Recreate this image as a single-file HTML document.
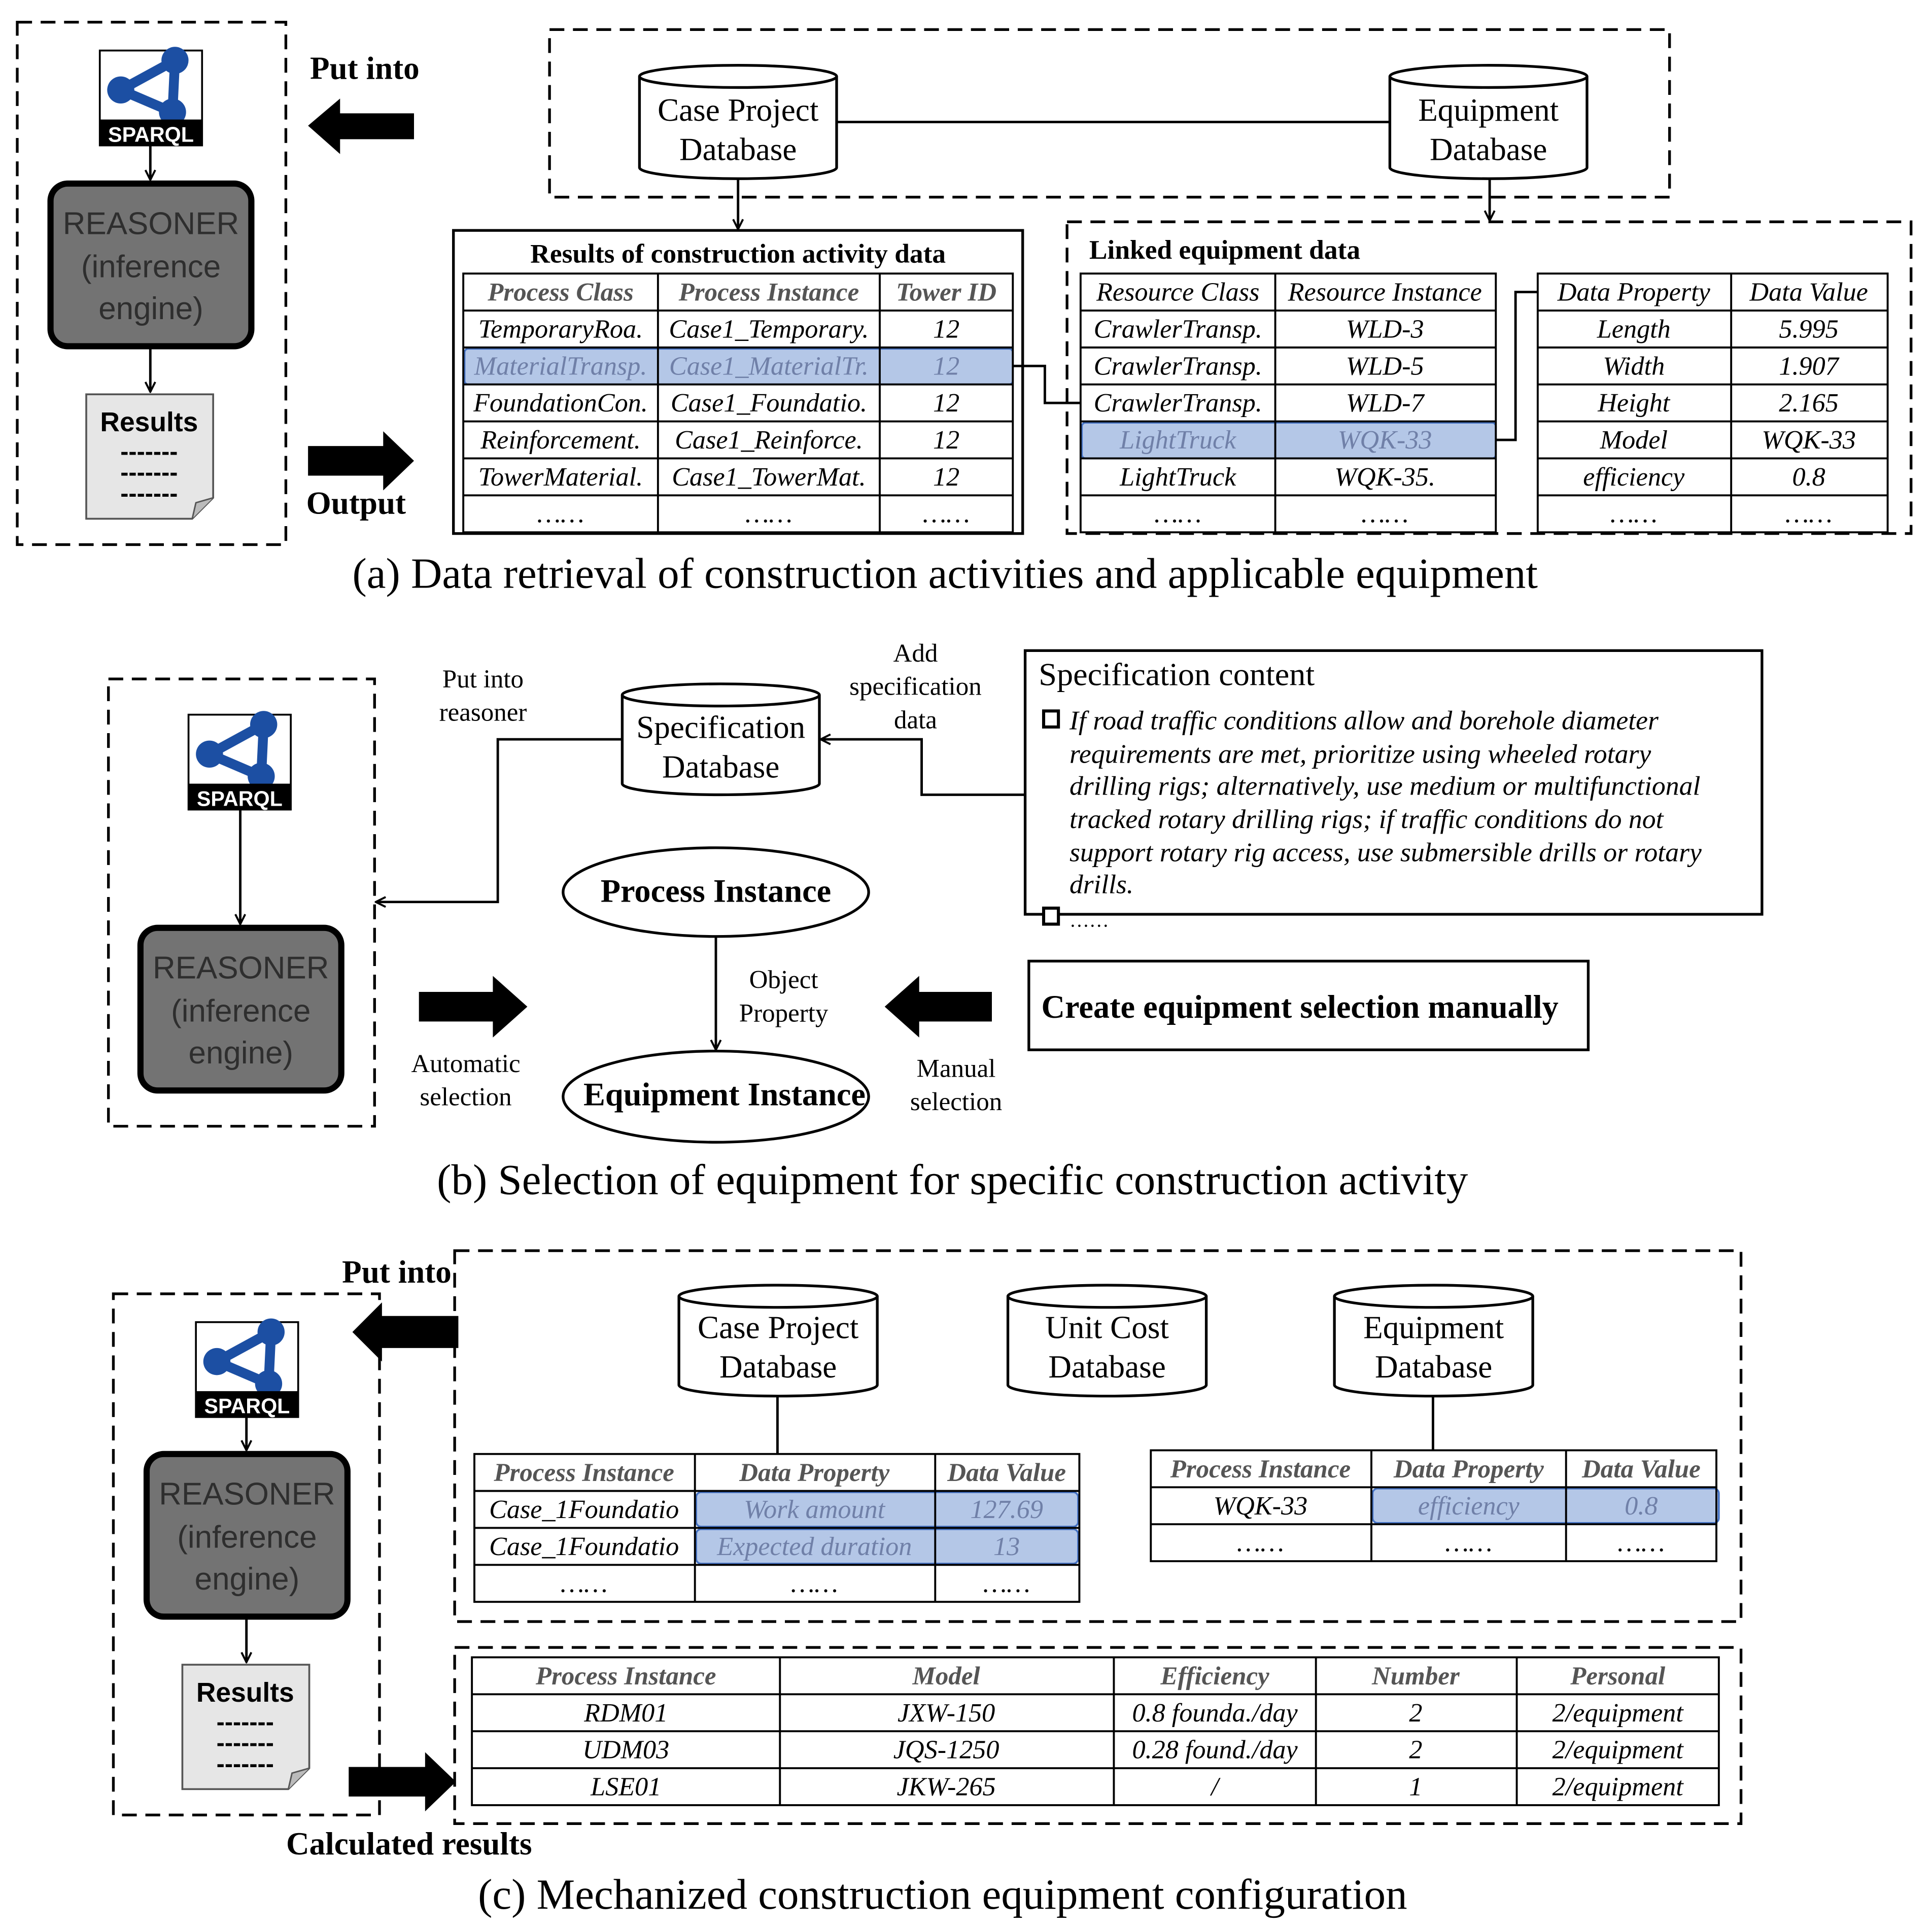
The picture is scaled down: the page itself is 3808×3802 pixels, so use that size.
<!DOCTYPE html>
<html><head><meta charset="utf-8"><style>
html,body{margin:0;padding:0;background:#fff}
svg{display:block}
text{font-family:"Liberation Serif",serif;fill:#000}
.sans{font-family:"Liberation Sans",sans-serif}
.it{font-style:italic;font-size:21.5px}
.hd{font-style:italic;font-weight:bold;font-size:21px;fill:#555}
.hl{fill:#7080a8}
.c{text-anchor:middle}
.b{font-weight:bold}
.dash{fill:none;stroke:#000;stroke-width:2.2;stroke-dasharray:12 7}
.ln{stroke:#000;stroke-width:2;fill:none}
.tb{stroke:#000;stroke-width:1.6;fill:none}
.cy{font-size:26px}
.sm{font-size:21px}
</style></head><body>
<svg width="3808" height="3802" viewBox="0 0 1568 1565.5" preserveAspectRatio="none" xmlns="http://www.w3.org/2000/svg">
<defs>
<marker id="ah" markerWidth="10" markerHeight="10" refX="9" refY="5" orient="auto" markerUnits="userSpaceOnUse"><path d="M1,1 L9,5 L1,9" fill="none" stroke="#000" stroke-width="1.6"/></marker>
<g id="sparql">
<rect x="1" y="6" width="83" height="77" fill="#fff" stroke="#000" stroke-width="1.5"/>
<path d="M18,38 L62,14 L60,56 Z" fill="none" stroke="#1c4fa3" stroke-width="8" stroke-linejoin="round"/>
<circle cx="18" cy="38" r="11" fill="#1c4fa3"/><circle cx="62" cy="14" r="11" fill="#1c4fa3"/><circle cx="60" cy="56" r="11" fill="#1c4fa3"/>
<rect x="1" y="62" width="83" height="21" fill="#000"/>
<text x="42.5" y="80" class="sans c" style="font-weight:bold;font-size:17px;fill:#fff">SPARQL</text>
</g>
<g id="reasoner">
<rect x="0" y="0" width="163" height="132" rx="14" fill="#737373" stroke="#000" stroke-width="5"/>
<text x="81.5" y="41" class="sans c" style="font-size:25.5px;fill:#2e2e2e">REASONER</text>
<text x="81.5" y="76" class="sans c" style="font-size:25.5px;fill:#2e2e2e">(inference</text>
<text x="81.5" y="110" class="sans c" style="font-size:25.5px;fill:#2e2e2e">engine)</text>
</g>
<g id="results">
<path d="M0,0 H103 V84 L86,101 H0 Z" fill="#e6e6e6" stroke="#555" stroke-width="1.5"/>
<path d="M86,101 L89,88 L103,84" fill="#bbb" stroke="#555" stroke-width="1.2"/>
<text x="51" y="30" class="sans c b" style="font-size:22px">Results</text>
<text x="51" y="53" class="sans c b" style="font-size:20px">-------</text>
<text x="51" y="70" class="sans c b" style="font-size:20px">-------</text>
<text x="51" y="87" class="sans c b" style="font-size:20px">-------</text>
</g>
</defs>

<!-- ===== (a) ===== -->
<rect x="14" y="18" width="218" height="424" class="dash"/>
<use href="#sparql" x="80" y="35"/>
<line x1="122" y1="118" x2="122" y2="146" class="ln" marker-end="url(#ah)"/>
<use href="#reasoner" x="41" y="149"/>
<line x1="122" y1="282" x2="122" y2="318" class="ln" marker-end="url(#ah)"/>
<use href="#results" x="70" y="320"/>
<text x="296" y="64" class="c b" style="font-size:26px">Put into</text>
<polygon points="250,102 276,80 276,92 336,92 336,113 276,113 276,125" fill="#000"/>
<polygon points="250,362 311,362 311,350 336,374 311,398 311,386 250,386" fill="#000"/>
<text x="289" y="417" class="c b" style="font-size:26px">Output</text>

<rect x="446" y="24" width="909" height="136" class="dash"/>
<path d="M519,62 V136 A80,9 0 0 0 679,136 V62" fill="#fff" stroke="#000" stroke-width="2.2"/>
<ellipse cx="599" cy="62" rx="80" ry="9" fill="#fff" stroke="#000" stroke-width="2.2"/>
<text x="599" y="98" class="c cy">Case Project</text>
<text x="599" y="130" class="c cy">Database</text>
<path d="M1128,62 V136 A80,9 0 0 0 1288,136 V62" fill="#fff" stroke="#000" stroke-width="2.2"/>
<ellipse cx="1208" cy="62" rx="80" ry="9" fill="#fff" stroke="#000" stroke-width="2.2"/>
<text x="1208" y="98" class="c cy">Equipment</text>
<text x="1208" y="130" class="c cy">Database</text>
<line x1="679" y1="99" x2="1128" y2="99" class="ln"/>
<line x1="599" y1="145" x2="599" y2="186" class="ln" marker-end="url(#ah)"/>
<line x1="1209" y1="145" x2="1209" y2="179" class="ln" marker-end="url(#ah)"/>

<!-- table 1 -->
<rect x="368" y="187" width="462" height="246" fill="none" stroke="#000" stroke-width="2.2"/>
<text x="599" y="213" class="c b" style="font-size:22px">Results of construction activity data</text>
<rect x="377" y="283" width="445" height="29" rx="3" fill="#b4c7e7" stroke="#4472c4" stroke-width="1.5"/>
<rect x="376" y="222" width="446" height="210" class="tb"/>
<path d="M376,252H822M376,282H822M376,312H822M376,342H822M376,372H822M376,402H822M534,222V432M714,222V432" class="tb"/>
<text x="455" y="244" class="hd c">Process Class</text><text x="624" y="244" class="hd c">Process Instance</text><text x="768" y="244" class="hd c">Tower ID</text>
<text x="455" y="274" class="it c">TemporaryRoa.</text><text x="624" y="274" class="it c">Case1_Temporary.</text><text x="768" y="274" class="it c">12</text>
<text x="455" y="304" class="it c hl">MaterialTransp.</text><text x="624" y="304" class="it c hl">Case1_MaterialTr.</text><text x="768" y="304" class="it c hl">12</text>
<text x="455" y="334" class="it c">FoundationCon.</text><text x="624" y="334" class="it c">Case1_Foundatio.</text><text x="768" y="334" class="it c">12</text>
<text x="455" y="364" class="it c">Reinforcement.</text><text x="624" y="364" class="it c">Case1_Reinforce.</text><text x="768" y="364" class="it c">12</text>
<text x="455" y="394" class="it c">TowerMaterial.</text><text x="624" y="394" class="it c">Case1_TowerMat.</text><text x="768" y="394" class="it c">12</text>
<text x="455" y="424" class="it c">……</text><text x="624" y="424" class="it c">……</text><text x="768" y="424" class="it c">……</text>
<path d="M822,297 H848 V327 H877" class="ln"/>

<!-- linked equipment -->
<rect x="866" y="180" width="685" height="253" class="dash"/>
<text x="884" y="210" class="b" style="font-size:22px">Linked equipment data</text>
<rect x="878" y="343" width="336" height="29" rx="3" fill="#b4c7e7" stroke="#4472c4" stroke-width="1.5"/>
<rect x="877" y="222" width="337" height="210" class="tb"/>
<path d="M877,252H1214M877,282H1214M877,312H1214M877,342H1214M877,372H1214M877,402H1214M1035,222V432" class="tb"/>
<text x="956" y="244" class="it c">Resource Class</text><text x="1124" y="244" class="it c">Resource Instance</text>
<text x="956" y="274" class="it c">CrawlerTransp.</text><text x="1124" y="274" class="it c">WLD-3</text>
<text x="956" y="304" class="it c">CrawlerTransp.</text><text x="1124" y="304" class="it c">WLD-5</text>
<text x="956" y="334" class="it c">CrawlerTransp.</text><text x="1124" y="334" class="it c">WLD-7</text>
<text x="956" y="364" class="it c hl">LightTruck</text><text x="1124" y="364" class="it c hl">WQK-33</text>
<text x="956" y="394" class="it c">LightTruck</text><text x="1124" y="394" class="it c">WQK-35.</text>
<text x="956" y="424" class="it c">……</text><text x="1124" y="424" class="it c">……</text>
<rect x="1248" y="222" width="284" height="210" class="tb"/>
<path d="M1248,252H1532M1248,282H1532M1248,312H1532M1248,342H1532M1248,372H1532M1248,402H1532M1405,222V432" class="tb"/>
<text x="1326" y="244" class="it c">Data Property</text><text x="1468" y="244" class="it c">Data Value</text>
<text x="1326" y="274" class="it c">Length</text><text x="1468" y="274" class="it c">5.995</text>
<text x="1326" y="304" class="it c">Width</text><text x="1468" y="304" class="it c">1.907</text>
<text x="1326" y="334" class="it c">Height</text><text x="1468" y="334" class="it c">2.165</text>
<text x="1326" y="364" class="it c">Model</text><text x="1468" y="364" class="it c">WQK-33</text>
<text x="1326" y="394" class="it c">efficiency</text><text x="1468" y="394" class="it c">0.8</text>
<text x="1326" y="424" class="it c">……</text><text x="1468" y="424" class="it c">……</text>
<path d="M1214,357 H1230 V237 H1248" class="ln"/>
<text x="767" y="477" class="c" style="font-size:35px">(a) Data retrieval of construction activities and applicable equipment</text>

<!-- ===== (b) ===== -->
<rect x="88" y="551" width="216" height="363" class="dash"/>
<use href="#sparql" x="152" y="574"/>
<line x1="195" y1="657" x2="195" y2="750" class="ln" marker-end="url(#ah)"/>
<use href="#reasoner" x="114" y="753"/>
<text x="392" y="558" class="c sm">Put into</text>
<text x="392" y="585" class="c sm">reasoner</text>
<path d="M505,564 V636 A80,9 0 0 0 665,636 V564" fill="#fff" stroke="#000" stroke-width="2.2"/>
<ellipse cx="585" cy="564" rx="80" ry="9" fill="#fff" stroke="#000" stroke-width="2.2"/>
<text x="585" y="599" class="c cy">Specification</text>
<text x="585" y="631" class="c cy">Database</text>
<path d="M505,600 H404 V732 H305" class="ln" marker-end="url(#ah)"/>
<text x="743" y="537" class="c sm">Add</text>
<text x="743" y="564" class="c sm">specification</text>
<text x="743" y="591" class="c sm">data</text>
<path d="M832,645 H748 V600 H666" class="ln" marker-end="url(#ah)"/>
<rect x="832" y="528" width="598" height="214" fill="none" stroke="#000" stroke-width="2.2"/>
<text x="843" y="556" style="font-size:26px" textLength="224" lengthAdjust="spacingAndGlyphs">Specification content</text>
<rect x="847" y="577" width="12" height="13" fill="#fff" stroke="#000" stroke-width="2.5"/>
<text x="868" y="592" style="font-size:22px;font-style:italic" textLength="478" lengthAdjust="spacingAndGlyphs">If road traffic conditions allow and borehole diameter</text>
<text x="868" y="619" style="font-size:22px;font-style:italic" textLength="472" lengthAdjust="spacingAndGlyphs">requirements are met, prioritize using wheeled rotary</text>
<text x="868" y="645" style="font-size:22px;font-style:italic" textLength="512" lengthAdjust="spacingAndGlyphs">drilling rigs; alternatively, use medium or multifunctional</text>
<text x="868" y="672" style="font-size:22px;font-style:italic" textLength="482" lengthAdjust="spacingAndGlyphs">tracked rotary drilling rigs; if traffic conditions do not</text>
<text x="868" y="699" style="font-size:22px;font-style:italic" textLength="513" lengthAdjust="spacingAndGlyphs">support rotary rig access, use submersible drills or rotary</text>
<text x="868" y="725" style="font-size:22px;font-style:italic">drills.</text>
<rect x="847" y="737" width="12" height="13" fill="#fff" stroke="#000" stroke-width="2.5"/>
<text x="868" y="752" style="font-size:16px">……</text>
<ellipse cx="581" cy="724" rx="124" ry="36" fill="#fff" stroke="#000" stroke-width="2.2"/>
<text x="581" y="732" class="c b" style="font-size:26.5px">Process Instance</text>
<ellipse cx="581" cy="890" rx="124" ry="37" fill="#fff" stroke="#000" stroke-width="2.2"/>
<text x="588" y="897" class="c b" style="font-size:26.5px">Equipment Instance</text>
<line x1="581" y1="760" x2="581" y2="852" class="ln" marker-end="url(#ah)"/>
<text x="636" y="802" class="c sm">Object</text>
<text x="636" y="829" class="c sm">Property</text>
<polygon points="340,805 400,805 400,792 428,817 400,842 400,829 340,829" fill="#000"/>
<text x="378" y="870" class="c sm">Automatic</text>
<text x="378" y="897" class="c sm">selection</text>
<polygon points="718,817 746,792 746,805 805,805 805,829 746,829 746,842" fill="#000"/>
<text x="776" y="874" class="c sm">Manual</text>
<text x="776" y="901" class="c sm">selection</text>
<rect x="835" y="780" width="454" height="72" fill="none" stroke="#000" stroke-width="2.2"/>
<text x="1055" y="826" class="c b" style="font-size:26.5px">Create equipment selection manually</text>
<text x="773" y="969" class="c" style="font-size:35px">(b) Selection of equipment for specific construction activity</text>

<!-- ===== (c) ===== -->
<rect x="92" y="1050" width="216" height="423" class="dash"/>
<use href="#sparql" x="158" y="1067"/>
<line x1="200" y1="1150" x2="200" y2="1177" class="ln" marker-end="url(#ah)"/>
<use href="#reasoner" x="119" y="1180"/>
<line x1="200" y1="1312" x2="200" y2="1349" class="ln" marker-end="url(#ah)"/>
<use href="#results" x="148" y="1351"/>
<text x="322" y="1041" class="c b" style="font-size:26px">Put into</text>
<polygon points="286,1081 310,1057 310,1068 372,1068 372,1094 310,1094 310,1105" fill="#000"/>
<polygon points="283,1434 345,1434 345,1422 370,1446 345,1470 345,1458 283,1458" fill="#000"/>
<text x="332" y="1505" class="c b" style="font-size:26px">Calculated results</text>

<rect x="369" y="1015" width="1044" height="301" class="dash"/>
<path d="M551,1052 V1124 A80.5,9 0 0 0 712,1124 V1052" fill="#fff" stroke="#000" stroke-width="2.2"/>
<ellipse cx="631.5" cy="1052" rx="80.5" ry="9" fill="#fff" stroke="#000" stroke-width="2.2"/>
<text x="631.5" y="1086" class="c cy">Case Project</text>
<text x="631.5" y="1118" class="c cy">Database</text>
<path d="M818,1052 V1124 A80.5,9 0 0 0 979,1124 V1052" fill="#fff" stroke="#000" stroke-width="2.2"/>
<ellipse cx="898.5" cy="1052" rx="80.5" ry="9" fill="#fff" stroke="#000" stroke-width="2.2"/>
<text x="898.5" y="1086" class="c cy">Unit Cost</text>
<text x="898.5" y="1118" class="c cy">Database</text>
<path d="M1083,1052 V1124 A80.5,9 0 0 0 1244,1124 V1052" fill="#fff" stroke="#000" stroke-width="2.2"/>
<ellipse cx="1163.5" cy="1052" rx="80.5" ry="9" fill="#fff" stroke="#000" stroke-width="2.2"/>
<text x="1163.5" y="1086" class="c cy">Equipment</text>
<text x="1163.5" y="1118" class="c cy">Database</text>
<line x1="631" y1="1133" x2="631" y2="1180" class="ln"/>
<line x1="1163" y1="1133" x2="1163" y2="1177" class="ln"/>

<rect x="565" y="1211" width="310" height="28" rx="4" fill="#b4c7e7" stroke="#4472c4" stroke-width="1.5"/>
<rect x="565" y="1241" width="310" height="28" rx="4" fill="#b4c7e7" stroke="#4472c4" stroke-width="1.5"/>
<rect x="385" y="1180" width="491" height="120" class="tb"/>
<path d="M385,1210H876M385,1240H876M385,1270H876M564,1180V1300M759,1180V1300" class="tb"/>
<text x="474" y="1202" class="hd c">Process Instance</text><text x="661" y="1202" class="hd c">Data Property</text><text x="817" y="1202" class="hd c">Data Value</text>
<text x="474" y="1232" class="it c">Case_1Foundatio</text><text x="661" y="1232" class="it c hl">Work amount</text><text x="817" y="1232" class="it c hl">127.69</text>
<text x="474" y="1262" class="it c">Case_1Foundatio</text><text x="661" y="1262" class="it c hl">Expected duration</text><text x="817" y="1262" class="it c hl">13</text>
<text x="474" y="1292" class="it c">……</text><text x="661" y="1292" class="it c">……</text><text x="817" y="1292" class="it c">……</text>

<rect x="1114" y="1208" width="281" height="28" rx="4" fill="#b4c7e7" stroke="#4472c4" stroke-width="1.5"/>
<rect x="934" y="1177" width="459" height="90" class="tb"/>
<path d="M934,1207H1393M934,1237H1393M1113,1177V1267M1271,1177V1267" class="tb"/>
<text x="1023" y="1199" class="hd c">Process Instance</text><text x="1192" y="1199" class="hd c">Data Property</text><text x="1332" y="1199" class="hd c">Data Value</text>
<text x="1023" y="1229" class="it c">WQK-33</text><text x="1192" y="1229" class="it c hl">efficiency</text><text x="1332" y="1229" class="it c hl">0.8</text>
<text x="1023" y="1259" class="it c">……</text><text x="1192" y="1259" class="it c">……</text><text x="1332" y="1259" class="it c">……</text>

<rect x="369" y="1337" width="1044" height="143" class="dash"/>
<rect x="383" y="1345" width="1012" height="120" class="tb"/>
<path d="M383,1375H1395M383,1405H1395M383,1435H1395M633,1345V1465M904,1345V1465M1068,1345V1465M1231,1345V1465" class="tb"/>
<text x="508" y="1367" class="hd c">Process Instance</text><text x="768" y="1367" class="hd c">Model</text><text x="986" y="1367" class="hd c">Efficiency</text><text x="1149" y="1367" class="hd c">Number</text><text x="1313" y="1367" class="hd c">Personal</text>
<text x="508" y="1397" class="it c">RDM01</text><text x="768" y="1397" class="it c">JXW-150</text><text x="986" y="1397" class="it c">0.8 founda./day</text><text x="1149" y="1397" class="it c">2</text><text x="1313" y="1397" class="it c">2/equipment</text>
<text x="508" y="1427" class="it c">UDM03</text><text x="768" y="1427" class="it c">JQS-1250</text><text x="986" y="1427" class="it c">0.28 found./day</text><text x="1149" y="1427" class="it c">2</text><text x="1313" y="1427" class="it c">2/equipment</text>
<text x="508" y="1457" class="it c">LSE01</text><text x="768" y="1457" class="it c">JKW-265</text><text x="986" y="1457" class="it c">/</text><text x="1149" y="1457" class="it c">1</text><text x="1313" y="1457" class="it c">2/equipment</text>
<text x="765" y="1549" class="c" style="font-size:35px">(c) Mechanized construction equipment configuration</text>
</svg>
</body></html>
